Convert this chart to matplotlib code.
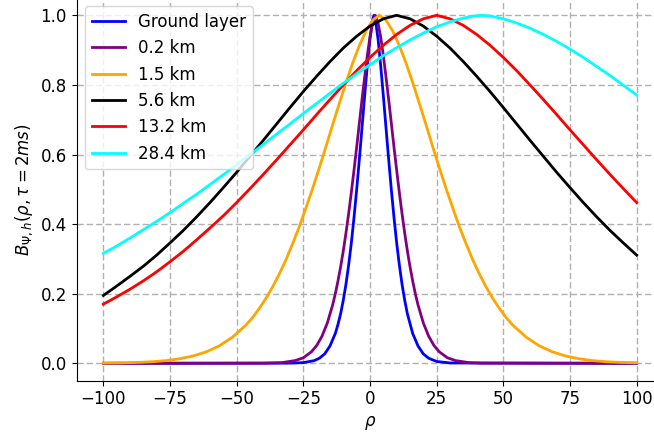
import matplotlib
matplotlib.use("Agg")
import matplotlib.pyplot as plt

# normalised covariance B_psi,h(rho) for each turbulent layer, tau = 2 ms
labels = ["Ground layer", "0.2 km", "1.5 km", "5.6 km", "13.2 km", "28.4 km"]
colors = ["blue", "purple", "orange", "black", "red", "cyan"]

rho_ground = [-100, -30, -25, -21, -19, -17, -15, -13, -12, -11, -10, -9, -8, -7, -6, -5, -4,
              -3, -2, -1, 0, 1, 1.5, 2, 3, 4, 5, 6, 7, 8, 9, 10, 11, 12, 13, 14, 16, 18, 20,
              22, 25, 30, 100]
b_ground = [0.0, 0.0005, 0.002, 0.0075, 0.0146, 0.027, 0.050, 0.086, 0.112, 0.143, 0.182,
            0.228, 0.283, 0.346, 0.419, 0.499, 0.586, 0.677, 0.769, 0.856, 0.933, 0.988, 1.0,
            0.988, 0.933, 0.856, 0.769, 0.677, 0.586, 0.499, 0.419, 0.346, 0.283, 0.228,
            0.182, 0.143, 0.086, 0.050, 0.027, 0.0146, 0.0053, 0.001, 0.0]

rho_02 = [-100, -40, -33, -28, -25, -22, -20, -18, -16, -14, -13, -12, -11, -10, -9, -8, -7,
          -6, -5, -4, -3, -2, -1, 0, 1, 2, 3, 4, 5, 6, 7, 8, 9, 10, 11, 12, 13, 14, 15, 16,
          17, 18, 20, 22, 24, 26, 29, 32, 37, 42, 100]
b_02 = [0.0, 0.0005, 0.002, 0.008, 0.016, 0.033, 0.051, 0.078, 0.116, 0.168, 0.200, 0.237,
        0.278, 0.324, 0.375, 0.431, 0.491, 0.555, 0.621, 0.690, 0.758, 0.823, 0.885, 0.938,
        0.979, 1.0, 0.979, 0.938, 0.885, 0.823, 0.758, 0.690, 0.621, 0.555, 0.491, 0.431,
        0.375, 0.324, 0.278, 0.237, 0.200, 0.168, 0.116, 0.078, 0.051, 0.033, 0.016, 0.008,
        0.002, 0.0005, 0.0]

rho_15 = [-100, -93, -86.5, -81.5, -76.5, -71.5, -66.5, -61.5, -56.5, -51.5, -46.5, -44,
          -41.5, -39, -36.5, -34, -31.5, -29, -26.5, -24, -21.5, -19, -16.5, -14, -11.5, -9,
          -6.5, -4, -1.5, 1, 3.5, 6, 8.5, 11, 13.5, 16, 18.5, 21, 23.5, 26, 28.5, 31, 33.5,
          36, 38.5, 41, 43.5, 46, 48.5, 51, 53.5, 58.5, 63.5, 68.5, 73.5, 78.5, 83.5, 88.5,
          93.5, 100]
b_15 = [0.0006, 0.0013, 0.0027, 0.0046, 0.0078, 0.0129, 0.0208, 0.0327, 0.0503, 0.0756,
        0.110, 0.132, 0.158, 0.187, 0.220, 0.257, 0.298, 0.344, 0.393, 0.447, 0.503, 0.562,
        0.623, 0.686, 0.747, 0.807, 0.863, 0.913, 0.955, 0.986, 1.0, 0.986, 0.955, 0.913,
        0.863, 0.807, 0.747, 0.686, 0.623, 0.562, 0.503, 0.447, 0.393, 0.344, 0.298, 0.257,
        0.220, 0.187, 0.158, 0.132, 0.110, 0.0756, 0.0503, 0.0327, 0.0208, 0.0129, 0.0078,
        0.0046, 0.0027, 0.0013]

rho_56 = list(range(-100, 101, 5))
b_56 = [0.195, 0.222, 0.250, 0.279, 0.311, 0.346, 0.382, 0.421, 0.462, 0.505, 0.549, 0.595,
        0.641, 0.688, 0.735, 0.781, 0.825, 0.867, 0.906, 0.940, 0.969, 0.990, 1.0, 0.990,
        0.969, 0.940, 0.906, 0.867, 0.825, 0.781, 0.735, 0.688, 0.641, 0.595, 0.549, 0.505,
        0.462, 0.421, 0.382, 0.346, 0.311]

rho_132 = list(range(-100, 101, 5))
b_132 = [0.170, 0.191, 0.213, 0.237, 0.263, 0.292, 0.322, 0.355, 0.389, 0.424, 0.462, 0.502,
         0.543, 0.585, 0.628, 0.671, 0.715, 0.758, 0.800, 0.841, 0.879, 0.914, 0.945, 0.971,
         0.990, 1.0, 0.990, 0.971, 0.945, 0.914, 0.879, 0.841, 0.800, 0.758, 0.715, 0.671,
         0.628, 0.585, 0.543, 0.502, 0.462]

rho_284 = list(range(-100, 41, 5)) + [42] + list(range(45, 101, 5))
b_284 = [0.316, 0.337, 0.360, 0.384, 0.408, 0.433, 0.460, 0.486, 0.514, 0.542, 0.571, 0.600,
         0.629, 0.659, 0.688, 0.718, 0.747, 0.776, 0.805, 0.832, 0.858, 0.884, 0.907, 0.929,
         0.949, 0.967, 0.981, 0.992, 0.999, 1.0, 0.998, 0.990, 0.978, 0.963, 0.945, 0.925,
         0.903, 0.879, 0.853, 0.827, 0.799, 0.771]

rhos = [rho_ground, rho_02, rho_15, rho_56, rho_132, rho_284]
covs = [b_ground, b_02, b_15, b_56, b_132, b_284]

fig = plt.figure(figsize=(6.54, 4.36), dpi=100)
ax = fig.add_axes([0.1173, 0.1268, 0.8969, 0.878])

for rho, b, lab, col in zip(rhos, covs, labels, colors):
    ax.plot(rho, b, color=col, lw=2, label=lab)

ax.set_xlim(-110, 110)
ax.set_ylim(-0.05, 1.05)
ax.set_xticks([-100, -75, -50, -25, 0, 25, 50, 75, 100])
ax.set_yticks([0.0, 0.2, 0.4, 0.6, 0.8, 1.0])
ax.tick_params(labelsize=12)
ax.spines["top"].set_visible(False)
ax.spines["right"].set_visible(False)
ax.grid(True, linestyle=(0, (4.5, 2.2)), color="#b0b0b0", lw=1.0)
ax.set_xlabel(r"$\rho$", fontsize=12)
ax.set_ylabel(r"$B_{\Psi,h}(\rho, \tau = 2ms)$", fontsize=12)
ax.legend(loc="upper left", fontsize=12)

fig.savefig("out.png", dpi=100)
